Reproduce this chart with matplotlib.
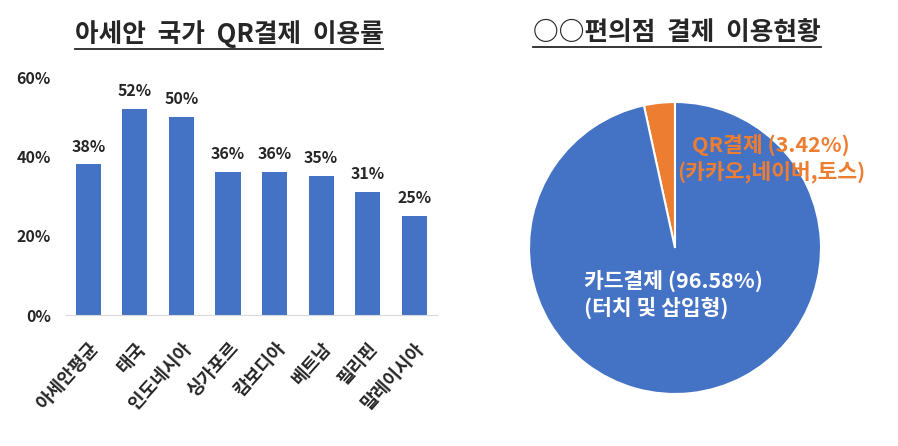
import matplotlib
matplotlib.use("Agg")
import matplotlib.pyplot as plt
from matplotlib.lines import Line2D

plt.rcParams["font.family"] = ["Noto Sans CJK KR", "DejaVu Sans"]
plt.rcParams["font.weight"] = "bold"

W, H = 898, 446

# bar chart data
countries = ["아세안평균", "태국", "인도네시아", "싱가포르", "캄보디아", "베트남", "필리핀", "말레이시아"]
qr_rates = [0.38, 0.52, 0.50, 0.36, 0.36, 0.35, 0.31, 0.25]
y_ticks = [0.0, 0.2, 0.4, 0.6]

# pie chart data
pay_labels = ["QR결제 (3.42%)\n(카카오,네이버,토스)", "카드결제 (96.58%)\n(터치 및 삽입형)"]
pay_shares = [3.42, 96.58]

BLUE = "#4472C4"
ORANGE = "#ED7D31"
TEXT = "#262626"


def px_axes(fig, left, top, right, bottom):
    return fig.add_axes([left / W, 1 - bottom / H, (right - left) / W, (bottom - top) / H])


fig = plt.figure(figsize=(W / 100, H / 100), dpi=100)

# ---- bar chart
ax = px_axes(fig, 66, 77, 437, 315)
x = range(len(countries))
bars = ax.bar(x, qr_rates, width=0.54, color=BLUE)
ax.set_xlim(-0.48, 7.49)
ax.set_ylim(0, 0.6)
ax.set_yticks(y_ticks)
ax.set_yticklabels([f"{v:.0%}" for v in y_ticks], fontsize=11.5, color=TEXT)
ax.set_xticks(list(x))
ax.set_xticklabels(countries, rotation=48, ha="right", rotation_mode="anchor", fontsize=13, color=TEXT)
ax.tick_params(axis="y", length=0, pad=11)
ax.tick_params(axis="x", length=0, pad=17)
for side in ["left", "right", "top"]:
    ax.spines[side].set_visible(False)
ax.spines["bottom"].set_color("#D9D9D9")
for bar, v in zip(bars, qr_rates):
    ax.annotate(f"{v:.0%}", (bar.get_x() + bar.get_width() / 2, v), xytext=(0, 7),
                textcoords="offset points", ha="center", va="bottom", fontsize=11.5, color=TEXT)

# ---- pie chart
cx, cy, r = 675, 248, 146
pax = px_axes(fig, cx - r, cy - r, cx + r, cy + r)
wedges, _ = pax.pie(pay_shares, colors=[ORANGE, BLUE], startangle=90, counterclock=True,
                    wedgeprops={"edgecolor": "white", "linewidth": 1.5})
pax.set_xlim(-1, 1)
pax.set_ylim(-1, 1)
pax.set_aspect("equal")
pax.text(0.66, 0.61, pay_labels[0], ha="center", va="center", multialignment="center",
         fontsize=15.5, color=ORANGE, linespacing=1.15)
pax.text(-0.01, -0.32, pay_labels[1], ha="center", va="center", multialignment="left",
         fontsize=15.5, color="white", linespacing=1.2)

# ---- titles with underline
titles = [("아세안  국가  QR결제  이용률", 229, 34), ("○○편의점  결제  이용현황", 677, 32)]
fig.canvas.draw()
renderer = fig.canvas.get_renderer()
for title, tx, ty in titles:
    t = fig.text(tx / W, 1 - ty / H, title, ha="center", va="center", fontsize=18.5,
                 fontweight="heavy", color=TEXT)
    bb = t.get_window_extent(renderer)
    yline = (bb.y0 - 1) / H
    fig.add_artist(Line2D([bb.x0 / W, bb.x1 / W], [yline, yline], color=TEXT, linewidth=1.3))

fig.savefig("out.png", dpi=100)
